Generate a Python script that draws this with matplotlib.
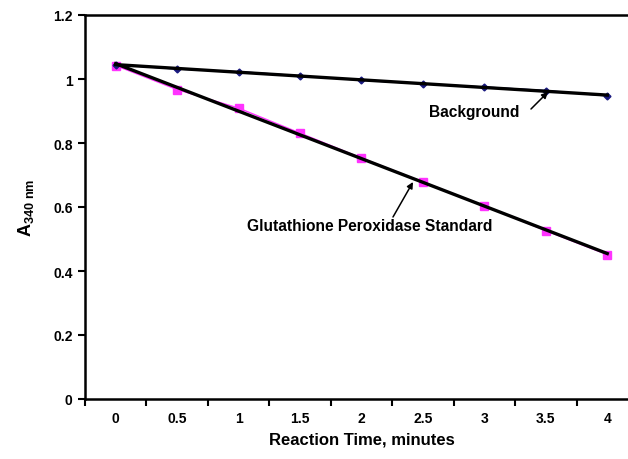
import numpy as np
import matplotlib
matplotlib.use("Agg")
import matplotlib.pyplot as plt

plt.rcParams['font.family'] = ['Liberation Sans', 'DejaVu Sans']
plt.rcParams['mathtext.fontset'] = 'custom'
plt.rcParams['mathtext.bf'] = 'Liberation Sans:bold'
plt.rcParams['mathtext.rm'] = 'Liberation Sans'

times = ['0', '0.5', '1', '1.5', '2', '2.5', '3', '3.5', '4']
background = [1.045, 1.031, 1.023, 1.010, 0.996, 0.985, 0.975, 0.964, 0.947]
gpx = [1.042, 0.967, 0.909, 0.831, 0.753, 0.678, 0.604, 0.526, 0.451]

x = np.arange(len(times))

fig = plt.figure(figsize=(6.28, 4.6), dpi=100)
ax = fig.add_axes([85/628, 60/460, 553/628, 384/460])

# data series
ax.plot(x, gpx, color='#ff33ff', lw=1, marker='s', ms=6, mec='#ff33ff', mfc='#ff33ff', zorder=2)
ax.plot(x, background, color='#1a1a80', lw=1, marker='D', ms=3.5, mec='#1a1a80', mfc='#1a1a80', zorder=2)

# linear trendlines
for ser in (gpx, background):
    k, b = np.polyfit(x, ser, 1)
    ax.plot(x[[0, -1]], k * x[[0, -1]] + b, color='black', lw=2.4, zorder=3)

ax.set_xlim(-0.5, len(times) - 0.5)
ax.set_ylim(0, 1.2)
ax.set_yticks(np.arange(0, 1.21, 0.2))
ax.set_yticklabels(['0', '0.2', '0.4', '0.6', '0.8', '1', '1.2'])
ax.set_xticks(x)
ax.set_xticklabels(times)
ax.set_xticks(np.arange(-0.5, len(times), 1), minor=True)
ax.tick_params(axis='x', which='major', length=0, pad=9)
ax.tick_params(axis='x', which='minor', length=5, width=1.5, direction='out')
ax.tick_params(axis='y', length=5, width=1.5, direction='out', pad=4)
for lab in ax.get_xticklabels() + ax.get_yticklabels():
    lab.set_fontweight('bold')
    lab.set_fontsize(10)

for s in ax.spines.values():
    s.set_linewidth(1.8)

ax.set_xlabel('Reaction Time, minutes', fontsize=12, fontweight='bold', labelpad=4)
ax.set_ylabel(r'$\mathbf{A_{340\ nm}}$', fontsize=13, labelpad=12)


def px(xp, yp):
    # reference image pixel -> figure fraction
    return (xp / 628, 1 - yp / 460)


arrow = dict(arrowstyle='-|>', color='black', lw=1.1, shrinkA=0, shrinkB=0, mutation_scale=9)

fig.text(*px(474, 112), 'Background', ha='center', va='center', fontsize=11.2, fontweight='bold')
ax.annotate('', xy=px(548, 93), xycoords='figure fraction',
            xytext=px(531, 110), textcoords='figure fraction',
            arrowprops=arrow, annotation_clip=False)

fig.text(*px(370, 227), 'Glutathione Peroxidase Standard', ha='center', va='center',
         fontsize=11.2, fontweight='bold')
ax.annotate('', xy=px(413, 183), xycoords='figure fraction',
            xytext=px(393, 218), textcoords='figure fraction',
            arrowprops=arrow, annotation_clip=False)

fig.savefig('out.png', dpi=100)
